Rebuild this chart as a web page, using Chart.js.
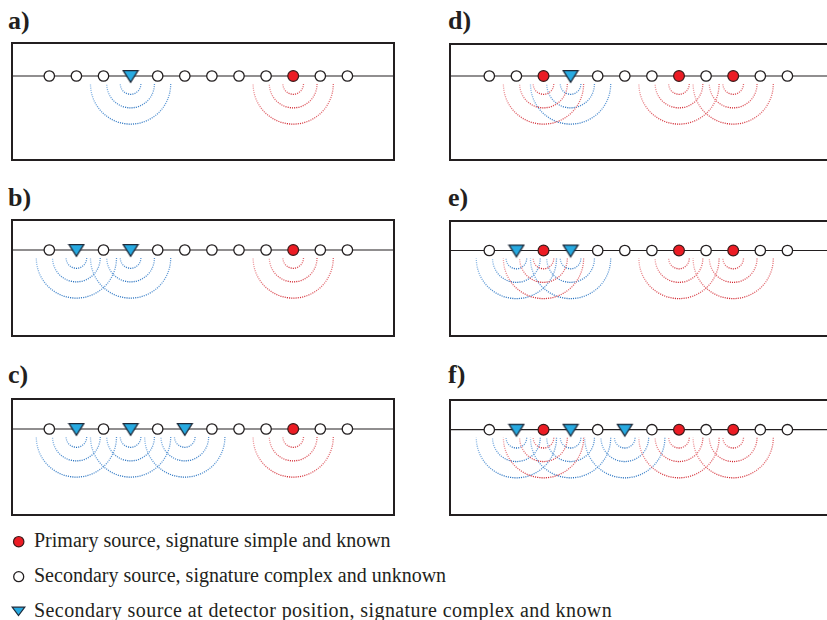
<!DOCTYPE html>
<html>
<head>
<meta charset="utf-8">
<script src="https://cdn.jsdelivr.net/npm/chart.js@4/dist/chart.umd.min.js"></script>
<style>
  html,body{margin:0;overflow:hidden;}
  body{width:827px;height:620px;background:#fff;position:relative;font-family:"Liberation Serif","Times New Roman",serif;color:#231f20;}
  .lbl{position:absolute;font-weight:bold;font-size:26px;line-height:26px;}
  .panel{position:absolute;}
  .leg{position:absolute;left:34px;font-size:20px;line-height:20px;white-space:nowrap;}
  .legmark{position:absolute;left:10px;}
</style>
</head>
<body>
<div class="lbl" style="left:8px;top:8px">a)</div>
<div class="lbl" style="left:8px;top:185px">b)</div>
<div class="lbl" style="left:8px;top:362px">c)</div>
<div class="lbl" style="left:448px;top:8px">d)</div>
<div class="lbl" style="left:448px;top:185px">e)</div>
<div class="lbl" style="left:448px;top:362px">f)</div>

<canvas class="panel" id="pa"></canvas>
<canvas class="panel" id="pb"></canvas>
<canvas class="panel" id="pc"></canvas>
<canvas class="panel" id="pd"></canvas>
<canvas class="panel" id="pe"></canvas>
<canvas class="panel" id="pf"></canvas>

<svg class="legmark" style="top:533px" width="18" height="86">
  <circle cx="8.7" cy="8.7" r="5.2" fill="#ec1c24" stroke="#3a1a1a" stroke-width="1.2"/>
  <circle cx="8.7" cy="43.7" r="5" fill="#fff" stroke="#231f20" stroke-width="1.3"/>
  <path d="M2.2 74.2 L14.8 74.2 L8.5 82.5 Z" fill="#27aae1" stroke="#1d2a3a" stroke-width="1.2"/>
</svg>
<div class="leg" style="top:530px">Primary source, signature simple and known</div>
<div class="leg" style="top:565px">Secondary source, signature complex and unknown</div>
<div class="leg" style="top:600px;letter-spacing:0.42px">Secondary source at detector position, signature complex and known</div>

<script>
// receiver / source positions along the line (station index)
const stations = [0, 1, 2, 3, 4, 5, 6, 7, 8, 9, 10, 11];

// which stations carry a primary source (red) or a detector (blue) in each panel
const primaryA = [9];
const detectorA = [3];
const primaryB = [9];
const detectorB = [1, 3];
const primaryC = [9];
const detectorC = [1, 3, 5];
const primaryD = [2, 7, 9];
const detectorD = [3];
const primaryE = [2, 7, 9];
const detectorE = [1, 3];
const primaryF = [2, 7, 9];
const detectorF = [1, 3, 5];

// wavefront radii (in station spacings) and depth of arc centres below the line
const arcRadii = [0.38, 0.88, 1.48];
const arcDrop = -8;

// panel boxes on the page
const panels = [
  {id: 'pa', left: 11,  top: 42,  w: 384, h: 119, lineAt: 34, first: 38.3, prim: primaryA, det: detectorA},
  {id: 'pb', left: 11,  top: 219, w: 384, h: 118, lineAt: 31, first: 38.3, prim: primaryB, det: detectorB},
  {id: 'pc', left: 11,  top: 398, w: 384, h: 118, lineAt: 31, first: 38.3, prim: primaryC, det: detectorC},
  {id: 'pd', left: 449, top: 43,  w: 384, h: 118, lineAt: 33, first: 40.3, prim: primaryD, det: detectorD},
  {id: 'pe', left: 449, top: 220, w: 384, h: 117, lineAt: 30.5, first: 40.3, prim: primaryE, det: detectorE},
  {id: 'pf', left: 449, top: 399, w: 384, h: 117, lineAt: 30.7, first: 40.3, prim: primaryF, det: detectorF}
];
const spacing = 27.1;

const BLUE = {light: 'rgba(120,172,225,0.85)', dark: '#1b69bb'};
const RED = {light: 'rgba(235,140,145,0.85)', dark: '#cf1d26'};

function makeTriangle() {
  const c = document.createElement('canvas');
  c.width = 18; c.height = 18;
  const g = c.getContext('2d');
  g.beginPath();
  g.moveTo(1.6, 3.6);
  g.lineTo(16.4, 3.6);
  g.lineTo(9, 15.3);
  g.closePath();
  g.fillStyle = '#27aae1';
  g.fill();
  g.lineWidth = 1.3;
  g.strokeStyle = '#1d2a3a';
  g.stroke();
  return c;
}
const triangle = makeTriangle();

const arcsAndFrame = {
  id: 'arcsAndFrame',
  beforeDatasetsDraw(chart, args, opts) {
    const {ctx, scales: {x, y}} = chart;
    const cy = y.getPixelForValue(arcDrop);
    for (const src of opts.sources) {
      const cx = x.getPixelForValue(src.at);
      for (const r of arcRadii) {
        const rp = x.getPixelForValue(src.at + r) - cx;
        const grad = ctx.createLinearGradient(cx - rp, cy, cx + rp, cy + rp);
        grad.addColorStop(0, src.col.light);
        grad.addColorStop(0.6, src.col.dark);
        grad.addColorStop(1, src.col.light);
        ctx.save();
        ctx.setLineDash([1.1, 1.1]);
        ctx.lineWidth = 1.3;
        ctx.strokeStyle = grad;
        ctx.beginPath();
        ctx.arc(cx, cy, rp, 0, Math.PI);
        ctx.stroke();
        ctx.restore();
      }
    }
  },
  afterDraw(chart) {
    const {ctx, chartArea: a} = chart;
    ctx.save();
    ctx.lineWidth = 2;
    ctx.strokeStyle = '#231f20';
    ctx.strokeRect(a.left + 1, a.top + 1, a.right - a.left - 2, a.bottom - a.top - 2);
    ctx.restore();
  }
};

for (const p of panels) {
  const cv = document.getElementById(p.id);
  cv.width = p.w; cv.height = p.h;
  cv.style.left = p.left + 'px';
  cv.style.top = p.top + 'px';

  const xmin = -p.first / spacing;
  const xmax = xmin + p.w / spacing;
  const secondary = stations.filter(s => !p.prim.includes(s) && !p.det.includes(s));
  const sources = [
    ...p.det.map(s => ({at: s, col: BLUE})),
    ...p.prim.map(s => ({at: s, col: RED}))
  ];

  new Chart(cv, {
    type: 'scatter',
    data: {
      datasets: [
        {
          type: 'line',
          data: [{x: xmin, y: 0}, {x: xmax, y: 0}],
          borderColor: '#231f20',
          borderWidth: 1.2,
          pointRadius: 0,
          order: 10
        },
        {
          data: secondary.map(s => ({x: s, y: 0})),
          pointRadius: 5.2,
          pointBackgroundColor: '#fff',
          pointBorderColor: '#231f20',
          pointBorderWidth: 1.3,
          order: 1
        },
        {
          data: p.prim.map(s => ({x: s, y: 0})),
          pointRadius: 5.4,
          pointBackgroundColor: '#ec1c24',
          pointBorderColor: '#3a1a1a',
          pointBorderWidth: 1.2,
          order: 1
        },
        {
          data: p.det.map(s => ({x: s, y: 0})),
          pointStyle: triangle,
          order: 0
        }
      ]
    },
    options: {
      responsive: false,
      animation: false,
      events: [],
      layout: {padding: 0, autoPadding: false},
      plugins: {
        legend: {display: false},
        tooltip: {enabled: false},
        arcsAndFrame: {sources}
      },
      scales: {
        x: {type: 'linear', min: xmin, max: xmax, display: false},
        y: {type: 'linear', min: p.lineAt - p.h, max: p.lineAt, display: false}
      }
    },
    plugins: [arcsAndFrame]
  });
}
</script>
</body>
</html>
